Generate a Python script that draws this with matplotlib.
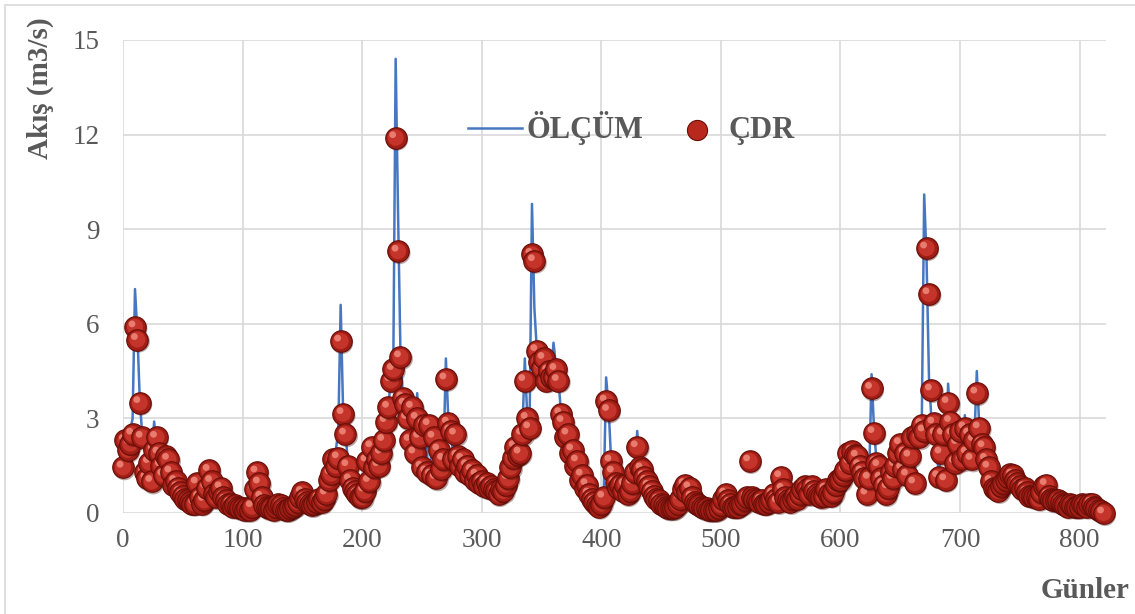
import numpy as np
import matplotlib
matplotlib.use("Agg")
import matplotlib.pyplot as plt
from matplotlib.patches import Rectangle
from matplotlib.transforms import offset_copy

# --- data (one value every 2 days) ---
DAYS = np.arange(0, 821, 2)

OLCUM = [
    1.5, 2.2, 2.5, 2.6, 3.0, 7.1, 5.7, 3.6, 2.5, 2.0,        # 0
    1.9, 1.3, 1.7, 2.9, 2.1, 1.8, 1.6, 1.5, 1.8, 1.4,        # 20
    1.2, 1.0, 1.1, 0.8, 0.7, 0.6, 0.5, 0.45, 0.4, 0.35,      # 40
    0.5, 1.0, 0.6, 0.4, 0.5, 0.9, 1.4, 1.0, 0.7, 0.6,        # 60
    0.8, 0.6, 0.5, 0.4, 0.35, 0.3, 0.25, 0.3, 0.25, 0.2,     # 80
    0.2, 0.15, 0.2, 0.15, 0.3, 0.9, 1.3, 0.8, 0.5, 0.3,      # 100
    0.25, 0.2, 0.2, 0.15, 0.25, 0.35, 0.3, 0.2, 0.15, 0.15,  # 120
    0.2, 0.25, 0.3, 0.4, 0.55, 0.7, 0.5, 0.4, 0.35, 0.3,     # 140
    0.35, 0.4, 0.45, 0.4, 0.5, 0.7, 1.1, 1.3, 1.8, 2.0,      # 160
    2.6, 6.6, 3.3, 2.6, 1.6, 1.2, 1.0, 0.9, 0.8, 0.7,        # 180
    0.6, 0.8, 1.6, 1.1, 2.1, 1.5, 1.8, 1.6, 2.0, 2.4,        # 200
    3.0, 3.4, 4.3, 4.6, 14.4, 9.5, 5.1, 3.7, 3.5, 3.2,       # 220
    2.5, 3.2, 2.2, 3.8, 2.6, 1.8, 2.9, 1.5, 2.8, 1.4,        # 240
    2.6, 1.3, 2.2, 1.5, 1.8, 4.9, 3.0, 2.7, 1.8, 2.6,        # 260
    1.9, 1.6, 1.7, 1.4, 1.6, 1.3, 1.4, 1.1, 1.2, 1.0,        # 280
    1.1, 0.9, 1.0, 0.85, 0.9, 0.8, 0.75, 0.7, 0.8, 0.75,     # 300
    1.0, 1.2, 1.5, 1.8, 2.1, 1.9, 2.0, 2.6, 4.9, 3.1,        # 320
    2.8, 9.8, 6.5, 5.2, 4.8, 5.4, 4.6, 4.3, 4.7, 4.4,        # 340
    5.4, 4.7, 4.3, 3.3, 3.0, 2.5, 2.6, 2.0, 2.1, 1.6,        # 360
    1.7, 1.2, 1.3, 0.9, 0.95, 0.6, 0.5, 0.4, 0.3, 0.3,       # 380
    0.4, 0.6, 4.3, 3.4, 1.8, 1.3, 1.0, 0.9, 1.0, 0.8,        # 400
    0.9, 0.7, 0.8, 1.0, 1.4, 2.6, 1.6, 1.5, 1.2, 1.1,        # 420
    0.9, 0.8, 0.6, 0.5, 0.4, 0.3, 0.3, 0.2, 0.2, 0.15,       # 440
    0.15, 0.2, 0.3, 0.5, 0.8, 0.9, 0.7, 0.8, 0.6, 0.4,       # 460
    0.3, 0.25, 0.2, 0.2, 0.15, 0.15, 0.1, 0.1, 0.15, 0.2,    # 480
    0.3, 0.5, 0.6, 0.4, 0.3, 0.25, 0.2, 0.25, 0.3, 0.35,     # 500
    0.4, 0.5, 0.6, 0.5, 0.45, 0.4, 0.35, 0.4, 0.3, 0.35,     # 520
    0.4, 0.5, 0.7, 0.5, 0.4, 1.2, 0.8, 0.6, 0.5, 0.4,        # 540
    0.5, 0.6, 0.5, 0.7, 0.8, 0.9, 0.8, 0.7, 0.9, 0.8,        # 560
    0.7, 0.6, 0.5, 0.6, 0.8, 0.7, 0.6, 0.7, 0.9, 1.1,        # 580
    1.1, 1.3, 1.5, 2.0, 1.7, 2.0, 1.9, 1.9, 1.6, 1.4,        # 600
    1.2, 0.8, 1.2, 4.4, 2.7, 1.7, 1.6, 1.2, 1.0, 0.8,        # 620
    0.9, 1.4, 1.2, 1.6, 2.0, 2.3, 1.5, 2.0, 1.4, 1.9,        # 640
    2.5, 1.0, 2.6, 2.5, 2.9, 10.1, 8.0, 4.3, 3.0, 2.6,       # 660
    2.5, 1.2, 1.9, 2.6, 1.5, 4.1, 2.9, 2.5, 1.8, 2.3,        # 680
    2.7, 1.8, 3.1, 2.0, 2.6, 1.8, 2.4, 4.5, 2.8, 2.3,        # 700
    2.1, 1.8, 1.5, 1.1, 0.9, 0.8, 0.8, 0.9, 1.0, 1.1,        # 720
    1.2, 1.3, 1.25, 1.1, 1.0, 0.9, 0.8, 0.85, 0.7, 0.6,      # 740
    0.6, 0.5, 0.55, 0.5, 0.7, 0.9, 0.8, 0.6, 0.5, 0.45,      # 760
    0.45, 0.4, 0.35, 0.3, 0.3, 0.25, 0.3, 0.3, 0.25, 0.2,    # 780
    0.25, 0.3, 0.25, 0.2, 0.3, 0.25, 0.2, 0.15, 0.1, 0.1,    # 800
    0.05,
]

CDR = [
    1.45, 2.3, 2.0, 2.2, 2.5, 5.9, 5.5, 3.5, 2.4, 1.3,       # 0
    1.1, 1.6, 1.0, 2.0, 2.4, 1.9, 1.5, 1.2, 1.8, 1.7,        # 20
    1.3, 0.9, 1.0, 0.8, 0.65, 0.55, 0.45, 0.4, 0.35, 0.3,    # 40
    0.3, 0.95, 0.5, 0.3, 0.4, 0.8, 1.35, 1.0, 0.6, 0.5,      # 60
    0.7, 0.8, 0.5, 0.4, 0.3, 0.3, 0.2, 0.25, 0.2, 0.15,      # 80
    0.15, 0.1, 0.15, 0.1, 0.2, 0.75, 1.3, 0.95, 0.5, 0.25,   # 100
    0.2, 0.15, 0.15, 0.1, 0.2, 0.3, 0.25, 0.15, 0.1, 0.1,    # 120
    0.15, 0.2, 0.25, 0.35, 0.5, 0.65, 0.45, 0.35, 0.3, 0.25, # 140
    0.3, 0.35, 0.45, 0.35, 0.45, 0.6, 1.05, 1.25, 1.7, 1.5,  # 160
    1.75, 5.45, 3.15, 2.5, 1.5, 1.05, 0.8, 0.7, 0.6, 0.5,    # 180
    0.5, 0.7, 1.65, 1.0, 2.1, 1.45, 1.7, 1.5, 1.9, 2.3,      # 200
    2.9, 3.35, 4.2, 4.55, 11.9, 8.3, 4.95, 3.65, 3.45, 3.0,  # 220
    2.3, 3.35, 1.9, 3.0, 2.4, 1.45, 2.8, 1.3, 2.8, 1.2,      # 240
    2.4, 1.1, 2.0, 1.4, 1.7, 4.25, 2.85, 2.6, 1.7, 2.5,      # 260
    1.8, 1.5, 1.7, 1.3, 1.5, 1.2, 1.35, 1.05, 1.2, 0.95,     # 280
    1.0, 0.85, 0.95, 0.8, 0.85, 0.75, 0.7, 0.6, 0.75, 0.7,   # 300
    0.9, 1.1, 1.45, 1.75, 2.1, 1.85, 1.9, 2.5, 4.2, 3.0,     # 320
    2.7, 8.2, 8.0, 5.15, 4.8, 4.6, 4.9, 4.2, 4.5, 4.3,       # 340
    4.3, 4.55, 4.2, 3.15, 2.9, 2.4, 2.5, 1.9, 2.0, 1.5,      # 360
    1.65, 1.05, 1.2, 0.8, 0.9, 0.6, 0.45, 0.35, 0.25, 0.2,   # 380
    0.3, 0.5, 3.55, 3.25, 1.65, 1.3, 0.95, 0.8, 0.9, 0.7,    # 400
    0.9, 0.6, 0.7, 0.95, 1.3, 2.1, 1.45, 1.4, 1.15, 1.0,     # 420
    0.85, 0.7, 0.55, 0.45, 0.4, 0.3, 0.25, 0.2, 0.15, 0.15,  # 440
    0.15, 0.2, 0.3, 0.45, 0.75, 0.9, 0.65, 0.8, 0.5, 0.35,   # 460
    0.3, 0.25, 0.2, 0.15, 0.15, 0.1, 0.1, 0.1, 0.1, 0.15,    # 480
    0.25, 0.45, 0.6, 0.4, 0.3, 0.2, 0.2, 0.2, 0.3, 0.3,      # 500
    0.4, 0.5, 1.65, 0.5, 0.45, 0.4, 0.35, 0.4, 0.3, 0.3,     # 520
    0.35, 0.45, 0.6, 0.45, 0.35, 1.15, 0.75, 0.5, 0.4, 0.35, # 540
    0.45, 0.55, 0.45, 0.6, 0.75, 0.85, 0.75, 0.6, 0.85, 0.7, # 560
    0.6, 0.55, 0.5, 0.55, 0.75, 0.6, 0.55, 0.65, 0.9, 1.05,  # 580
    1.05, 1.2, 1.35, 1.9, 1.6, 1.95, 1.85, 1.8, 1.5, 1.3,    # 600
    1.1, 0.6, 1.1, 3.95, 2.55, 1.6, 1.5, 1.1, 0.9, 0.6,      # 620
    0.8, 1.3, 1.1, 1.5, 1.9, 2.2, 1.4, 1.9, 1.2, 1.8,        # 640
    2.4, 0.95, 2.5, 2.4, 2.8, 2.6, 8.4, 6.95, 3.9, 2.85,     # 660
    2.5, 1.15, 1.9, 2.5, 1.05, 3.5, 2.9, 2.5, 1.6, 2.2,      # 680
    2.6, 1.7, 2.7, 1.9, 2.5, 1.7, 2.3, 3.8, 2.7, 2.2,        # 700
    2.1, 1.7, 1.45, 1.0, 0.8, 0.75, 0.7, 0.85, 0.95, 1.05,   # 720
    1.15, 1.25, 1.2, 1.05, 0.95, 0.85, 0.75, 0.8, 0.65, 0.55, # 740
    0.55, 0.5, 0.5, 0.45, 0.65, 0.85, 0.9, 0.55, 0.45, 0.4,  # 760
    0.4, 0.4, 0.35, 0.3, 0.25, 0.2, 0.3, 0.25, 0.2, 0.2,     # 780
    0.2, 0.3, 0.25, 0.2, 0.3, 0.3, 0.2, 0.15, 0.1, 0.05,     # 800
    0.0,
]

X_TICKS = [0, 100, 200, 300, 400, 500, 600, 700, 800]
Y_TICKS = [0, 3, 6, 9, 12, 15]

plt.rcParams["font.family"] = ["Liberation Serif", "DejaVu Serif"]

GRAY_TXT = "#595959"
GRID = "#D9D9D9"
BLUE = "#4677C0"

fig = plt.figure(figsize=(11.35, 6.14), dpi=100)
ax = fig.add_axes([0.1084, 0.1645, 0.866, 0.7705])

# measured flow
ax.plot(DAYS, OLCUM, color=BLUE, lw=1.8, zorder=2, label="ÖLÇÜM")

# model: red "spheres", each point drawn in full so later ones sit on top
shadow_trans = offset_copy(ax.transData, fig=fig, x=1.5, y=-2, units="dots")
hl_trans = offset_copy(ax.transData, fig=fig, x=-3, y=3, units="dots")
for i, (d, q) in enumerate(zip(DAYS, CDR)):
    z = 3 + i * 1e-3
    ax.scatter(d, q, s=250, color="#3a0804", alpha=0.35, edgecolors="none",
               transform=shadow_trans, zorder=z, clip_on=False)
    ax.scatter(d, q, s=240, color="#A01E15", edgecolors="#680D08",
               linewidths=0.8, zorder=z + 1e-4, clip_on=False)
    ax.scatter(d, q, s=135, color="#C4342A", edgecolors="none",
               zorder=z + 2e-4, clip_on=False)
    ax.scatter(d, q, s=24, color="#EE8A7C", edgecolors="none", alpha=0.85,
               transform=hl_trans, zorder=z + 4e-4, clip_on=False)

# legend handle for the spheres
ax.scatter([], [], s=210, color="#B8281C", edgecolors="#6A0E08",
           linewidths=0.8, label="ÇDR")

ax.set_xlim(0, 822)
ax.set_ylim(0, 15)
ax.set_xticks(X_TICKS)
ax.set_yticks(Y_TICKS)
ax.grid(True, color=GRID, lw=1.2)
ax.set_axisbelow(True)
for sp in ax.spines.values():
    sp.set_visible(False)
ax.tick_params(length=0, labelsize=19.5, labelcolor=GRAY_TXT)
ax.tick_params(axis="x", pad=11)
ax.tick_params(axis="y", pad=17)

leg = ax.legend(loc="center left", bbox_to_anchor=(0.351, 0.813), ncol=2,
                frameon=False, borderpad=0, borderaxespad=0,
                handlelength=1.75, handletextpad=0.15, columnspacing=0.9,
                prop={"weight": "bold", "size": 22})
for t in leg.get_texts():
    t.set_color(GRAY_TXT)

fig.text(40 / 1135, 1 - 88 / 614, "Akış (m3/s)", rotation=90, ha="center",
         va="center", fontsize=21, fontweight="bold", color=GRAY_TXT)
fig.text(1130 / 1135, 1 - 590 / 614, "Günler", ha="right", va="center",
         fontsize=21, fontweight="bold", color=GRAY_TXT)

# light chart-area border
fig.patches.append(Rectangle((0.0044, -0.05), 1.2, 1.042, transform=fig.transFigure,
                             fill=False, edgecolor=GRID, lw=1.2))

fig.savefig("out.png", dpi=100)
